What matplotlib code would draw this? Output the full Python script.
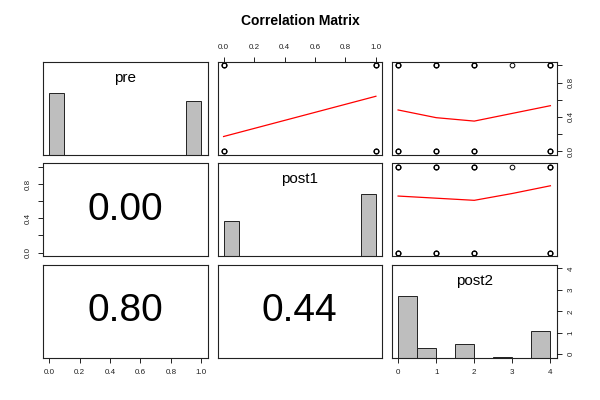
import numpy as np
import matplotlib
matplotlib.use('Agg')
import matplotlib.pyplot as plt

plt.rcParams['font.family'] = ['Liberation Sans', 'DejaVu Sans']

# variables of the pairs plot
names = ['pre', 'post1', 'post2']
ranges = [(0.0, 1.0), (0.0, 1.0), (0.0, 4.0)]

# diagonal histograms (heights scaled to max = 1, panel scale 0..1.5)
pre_edges = np.arange(0, 1.01, 0.1)
pre_heights = [1.0, 0, 0, 0, 0, 0, 0, 0, 0, 0.87]
post1_edges = np.arange(0, 1.01, 0.1)
post1_heights = [0.56, 0, 0, 0, 0, 0, 0, 0, 0, 1.0]
post2_edges = np.arange(0, 4.01, 0.5)
post2_heights = [1.0, 0.15, 0, 0.22, 0, 0.01, 0, 0.43]
hists = [(pre_edges, pre_heights), (post1_edges, post1_heights), (post2_edges, post2_heights)]

# upper panels: scatter points (x, y, overplot count) and smoother
pts_pre_post1 = [(0, 1, 3), (1, 1, 3), (0, 0, 3), (1, 0, 3)]
pts_pre_post2 = [(0, 1, 3), (1, 1, 3), (2, 1, 3), (3, 1, 1), (4, 1, 3),
                 (0, 0, 3), (1, 0, 3), (2, 0, 3), (4, 0, 3)]
pts_post1_post2 = [(0, 1, 3), (1, 1, 3), (2, 1, 3), (3, 1, 1), (4, 1, 3),
                   (0, 0, 3), (1, 0, 3), (2, 0, 3), (4, 0, 3)]
smooth_pre_post1_x = [0, 1]
smooth_pre_post1_y = [0.17, 0.64]
smooth_pre_post2_x = [0, 1, 2, 3, 4]
smooth_pre_post2_y = [0.48, 0.39, 0.35, 0.44, 0.53]
smooth_post1_post2_x = [0, 1, 2, 3, 4]
smooth_post1_post2_y = [0.66, 0.635, 0.61, 0.69, 0.78]
upper = {(0, 1): (pts_pre_post1, smooth_pre_post1_x, smooth_pre_post1_y),
         (0, 2): (pts_pre_post2, smooth_pre_post2_x, smooth_pre_post2_y),
         (1, 2): (pts_post1_post2, smooth_post1_post2_x, smooth_post1_post2_y)}

# lower panels: text values
lower = {(1, 0): '0.00', (2, 0): '0.80', (2, 1): '0.44'}


def padded(r):
    d = (r[1] - r[0]) * 0.04
    return (r[0] - d, r[1] + d)


W, H = 600, 400
fig = plt.figure(figsize=(6, 4), dpi=100)
fig.text(0.5, 1 - 21 / H, 'Correlation Matrix', ha='center', va='center',
         fontsize=10, fontweight='bold')

tick_kw = dict(direction='out', length=3.5, width=0.6, labelsize=5.8, pad=4.5,
               labelcolor='#222222')
axes = {}
for i in range(3):
    for j in range(3):
        left = 43 + j * 174.5
        top = 62 + i * 101.5
        ax = fig.add_axes([left / W, 1 - (top + 92.5) / H, 164.5 / W, 92.5 / H])
        for s in ax.spines.values():
            s.set_linewidth(0.8)
            s.set_color('#222222')
        ax.set_xlim(padded(ranges[j]))
        ax.set_ylim(padded(ranges[i]))
        ax.set_xticks([])
        ax.set_yticks([])
        axes[(i, j)] = ax

        if i == j:
            edges, heights = hists[i]
            ax.set_ylim(0, 1.5)
            ax.bar(edges[:-1], heights, width=np.diff(edges), align='edge',
                   color='#bebebe', edgecolor='#222222', linewidth=0.7)
            ax.text(0.5, 0.83, names[i], transform=ax.transAxes,
                    ha='center', va='center', fontsize=11)
        elif (i, j) in upper:
            pts, sx, sy = upper[(i, j)]
            for x, y, n in pts:
                for _ in range(n):
                    ax.plot(x, y, 'o', mfc='none', mec='black', ms=3.4, mew=0.7)
            ax.plot(sx, sy, color='red', lw=0.9)
        else:
            ax.text(0.5, 0.5, lower[(i, j)], transform=ax.transAxes,
                    ha='center', va='center', fontsize=28)

unit_ticks = np.arange(0, 1.01, 0.2)
unit_labels = ['0.0', '0.2', '0.4', '0.6', '0.8', '1.0']
sparse_labels = ['0.0', '', '0.4', '', '0.8', '']

# col 1 bottom axis
ax = axes[(2, 0)]
ax.set_xticks(unit_ticks, unit_labels)
ax.tick_params(axis='x', **tick_kw)

# col 2 top axis
ax = axes[(0, 1)]
ax.xaxis.tick_top()
ax.set_xticks(unit_ticks, unit_labels)
ax.tick_params(axis='x', **tick_kw)

# col 3 bottom axis
ax = axes[(2, 2)]
ax.set_xticks(range(5), [str(v) for v in range(5)])
ax.tick_params(axis='x', **tick_kw)

# row 1 right axis
ax = axes[(0, 2)]
ax.yaxis.tick_right()
ax.set_yticks(unit_ticks, sparse_labels, rotation=90, va='center')
ax.tick_params(axis='y', **tick_kw)

# row 2 left axis
ax = axes[(1, 0)]
ax.set_yticks(unit_ticks, sparse_labels, rotation=90, va='center')
ax.tick_params(axis='y', **tick_kw)

# row 3 right axis (post2 scale over the histogram)
ax2 = axes[(2, 2)].twinx()
ax2.set_ylim(padded(ranges[2]))
ax2.set_yticks(range(5), [str(v) for v in range(5)], rotation=90, va='center')
ax2.tick_params(axis='y', **tick_kw)
for s in ax2.spines.values():
    s.set_visible(False)

fig.savefig('out.png', dpi=100)
